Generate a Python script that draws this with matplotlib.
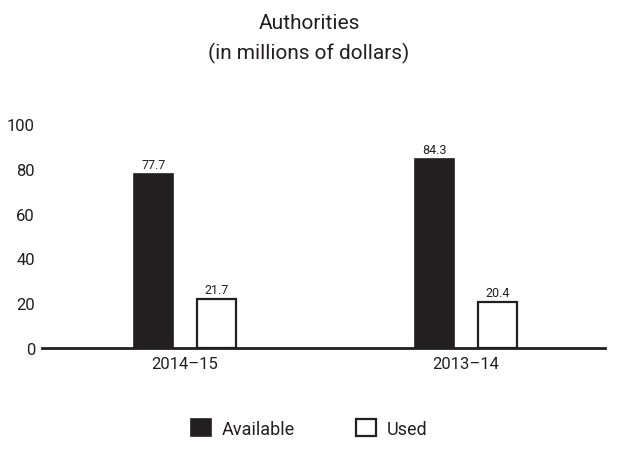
import matplotlib
matplotlib.use('Agg')
import matplotlib.pyplot as plt
import numpy as np
from matplotlib.patches import Patch

plt.rcParams['font.family'] = ['Roboto', 'DejaVu Sans']

# Data
years = ['2014\u201315', '2013\u201314']
available = [77.7, 84.3]
used = [21.7, 20.4]
series_names = ['Available', 'Used']
y_ticks = [0, 20, 40, 60, 80, 100]

ink = '#231f20'

fig = plt.figure(figsize=(6.18, 4.6), dpi=100)
ax = fig.add_axes([0.068, 0.2413, 0.911, 0.487])

x = np.arange(len(years))
w = 0.139
off = 0.112
b1 = ax.bar(x - off, available, w, color=ink, edgecolor=ink, linewidth=1.2)
b2 = ax.bar(x + off, used, w, color='white', edgecolor=ink, linewidth=1.6)

# value labels above the bars
for bars, vals in [(b1, available), (b2, used)]:
    for rect, v in zip(bars, vals):
        ax.text(rect.get_x() + rect.get_width() / 2, v + 1.5, f'{v:.1f}',
                ha='center', va='bottom', fontsize=9, color=ink)

ax.set_xlim(-0.509, 1.495)
ax.set_ylim(0, 100)
ax.set_yticks(y_ticks)
ax.set_xticks(x)
ax.set_xticklabels(years)
ax.tick_params(axis='both', length=0, labelsize=12, colors=ink)
ax.tick_params(axis='y', pad=5)
ax.tick_params(axis='x', pad=6)
for s in ['top', 'right', 'left']:
    ax.spines[s].set_visible(False)
ax.spines['bottom'].set_color(ink)
ax.spines['bottom'].set_linewidth(2)

fig.text(0.5, 0.948, 'Authorities', ha='center', va='center', fontsize=15, color=ink)
fig.text(0.5, 0.883, '(in millions of dollars)', ha='center', va='center', fontsize=15, color=ink)

handles = [Patch(facecolor=ink, edgecolor=ink, linewidth=1.2),
           Patch(facecolor='white', edgecolor=ink, linewidth=1.6)]
fig.legend(handles, series_names, loc='center', bbox_to_anchor=(0.5, 0.067),
           ncol=2, frameon=False, fontsize=13, handlelength=1.1, handleheight=1.1,
           columnspacing=3.4, handletextpad=0.6, labelcolor=ink)

fig.savefig('out.png', dpi=100)
